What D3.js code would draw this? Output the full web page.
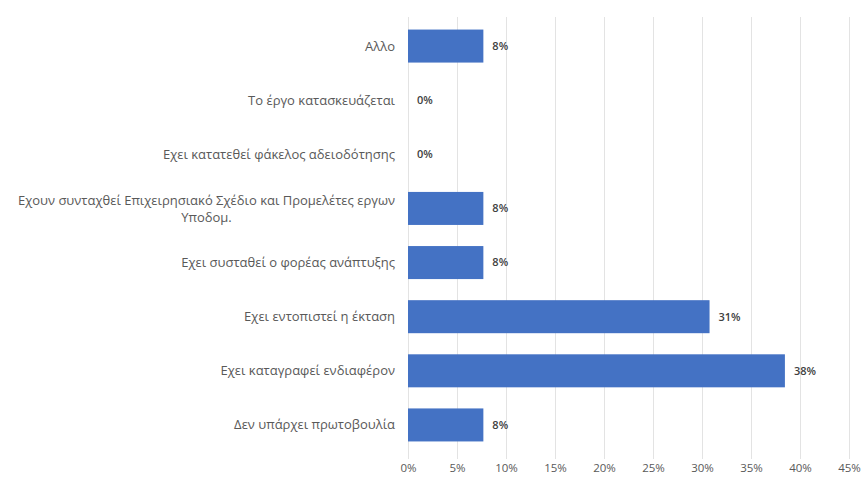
<!DOCTYPE html>
<html><head><meta charset="utf-8">
<script src="https://cdn.jsdelivr.net/npm/d3@7"></script>
<style>body{margin:0;background:#fff}svg{display:block}</style>
</head><body>
<svg id="c" width="861" height="481"></svg>
<script>
const categories = [
  "Αλλο",
  "Το έργο κατασκευάζεται",
  "Εχει κατατεθεί φάκελος αδειοδότησης",
  "Εχουν συνταχθεί Επιχειρησιακό Σχέδιο και Προμελέτες εργων|Υποδομ.",
  "Εχει συσταθεί ο φορέας ανάπτυξης",
  "Εχει εντοπιστεί η έκταση",
  "Εχει καταγραφεί ενδιαφέρον",
  "Δεν υπάρχει πρωτοβουλία"
];
const values = [7.69, 0, 0, 7.69, 7.69, 30.77, 38.46, 7.69];
const valueLabels = ["8%", "0%", "0%", "8%", "8%", "31%", "38%", "8%"];
const xTicks = [0, 5, 10, 15, 20, 25, 30, 35, 40, 45];

const svg = d3.select("#c");
const font = "'Open Sans', 'Liberation Sans', Arial, sans-serif";
const x = d3.scaleLinear().domain([0, 45]).range([408, 849]);
const y = d3.scaleBand().domain(d3.range(categories.length)).range([19, 452]).paddingInner(0.39).paddingOuter(0.195);

// gridlines
svg.append("g").selectAll("line").data(xTicks).join("line")
  .attr("x1", d => Math.round(x(d)) + 0.5).attr("x2", d => Math.round(x(d)) + 0.5)
  .attr("y1", 17).attr("y2", 459)
  .attr("stroke", "#e3e3e3").attr("stroke-width", 1);

// x axis labels
const xAxis = d3.axisBottom(x).tickValues(xTicks).tickFormat(d => d + "%").tickSize(0).tickPadding(0);
const gx = svg.append("g").attr("transform", "translate(0,464)").call(xAxis);
gx.select(".domain").remove();
gx.selectAll("text").attr("font-family", font).attr("font-size", 11.5).attr("fill", "#595959").attr("dy", "0.71em");

// bars
svg.append("g").selectAll("rect").data(values).join("rect")
  .attr("x", x(0)).attr("y", (d, i) => y(i))
  .attr("width", d => x(d) - x(0)).attr("height", y.bandwidth())
  .attr("fill", "#4472c4");

// value labels
svg.append("g").selectAll("text").data(values).join("text")
  .attr("x", d => x(d) + 9).attr("y", (d, i) => y(i) + y.bandwidth() / 2)
  .attr("dy", "0.35em")
  .attr("font-family", font).attr("font-size", 11).attr("font-weight", 600).attr("fill", "#404040")
  .text((d, i) => valueLabels[i]);

// category labels
const g = svg.append("g").attr("font-family", font).attr("font-size", 13).attr("fill", "#595959");
categories.forEach((d, i) => {
  const lines = d.split("|");
  const cy = y(i) + y.bandwidth() / 2;
  if (lines.length === 1) {
    g.append("text").attr("x", 395).attr("y", cy).attr("dy", "0.35em").attr("text-anchor", "end").text(d);
  } else {
    const t1 = g.append("text").attr("x", 395).attr("y", cy - 8).attr("dy", "0.35em").attr("text-anchor", "end").text(lines[0]);
    const w = t1.node().getComputedTextLength();
    g.append("text").attr("x", 395 - w / 2).attr("y", cy + 9).attr("dy", "0.35em")
      .attr("text-anchor", "middle").text(lines[1]);
  }
});
</script>
</body></html>
